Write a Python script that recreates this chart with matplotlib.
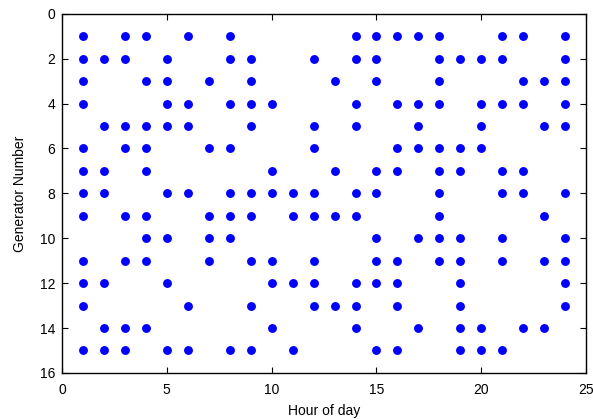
import matplotlib
matplotlib.use("Agg")
import matplotlib.pyplot as plt

# hours (1..24) in which each generator is on
gen1 = [1, 3, 4, 6, 8, 14, 15, 16, 17, 18, 21, 22, 24]
gen2 = [1, 2, 3, 5, 8, 9, 12, 14, 15, 18, 19, 20, 21, 24]
gen3 = [1, 4, 5, 7, 9, 13, 15, 18, 22, 23, 24]
gen4 = [1, 5, 6, 8, 9, 10, 14, 16, 17, 18, 20, 21, 22, 24]
gen5 = [2, 3, 4, 5, 6, 9, 12, 14, 17, 20, 23, 24]
gen6 = [1, 3, 4, 7, 8, 12, 16, 17, 18, 19, 20]
gen7 = [1, 2, 4, 10, 13, 15, 16, 18, 19, 21, 22]
gen8 = [1, 2, 5, 6, 8, 9, 10, 11, 12, 14, 15, 18, 21, 22, 24]
gen9 = [1, 3, 4, 7, 8, 9, 11, 12, 13, 14, 18, 23]
gen10 = [4, 5, 7, 8, 15, 17, 18, 19, 21, 24]
gen11 = [1, 3, 4, 7, 9, 10, 12, 15, 16, 18, 19, 21, 23, 24]
gen12 = [1, 2, 5, 10, 11, 12, 14, 15, 16, 19, 24]
gen13 = [1, 6, 9, 12, 13, 14, 16, 19, 24]
gen14 = [2, 3, 4, 10, 14, 17, 19, 20, 22, 23]
gen15 = [1, 2, 3, 5, 6, 8, 9, 11, 15, 16, 19, 20, 21]

schedule = [gen1, gen2, gen3, gen4, gen5, gen6, gen7, gen8,
            gen9, gen10, gen11, gen12, gen13, gen14, gen15]

hours = []
gens = []
for g, on in enumerate(schedule, start=1):
    hours += on
    gens += [g] * len(on)

plt.rcParams['font.family'] = ['Liberation Sans', 'DejaVu Sans']
plt.rcParams['font.size'] = 10

fig = plt.figure(figsize=(5.93, 4.19), dpi=100)
ax = fig.add_axes([0.1045, 0.11, 0.884, 0.857])
ax.plot(hours, gens, 'o', color='#0000ff', markersize=6.4, markeredgewidth=0)

ax.set_xlim(0, 25)
ax.set_ylim(16, 0)
ax.set_xticks(range(0, 26, 5))
ax.set_yticks(range(0, 17, 2))
ax.tick_params(axis='both', direction='in', top=True, right=True, length=4, width=0.8)
ax.tick_params(axis='x', pad=7)
ax.tick_params(axis='y', pad=5)
for s in ax.spines.values():
    s.set_linewidth(1.0)
ax.set_xlabel('Hour of day', labelpad=5)
ax.set_ylabel('Generator Number', labelpad=9)

fig.savefig('out.png', dpi=100)
